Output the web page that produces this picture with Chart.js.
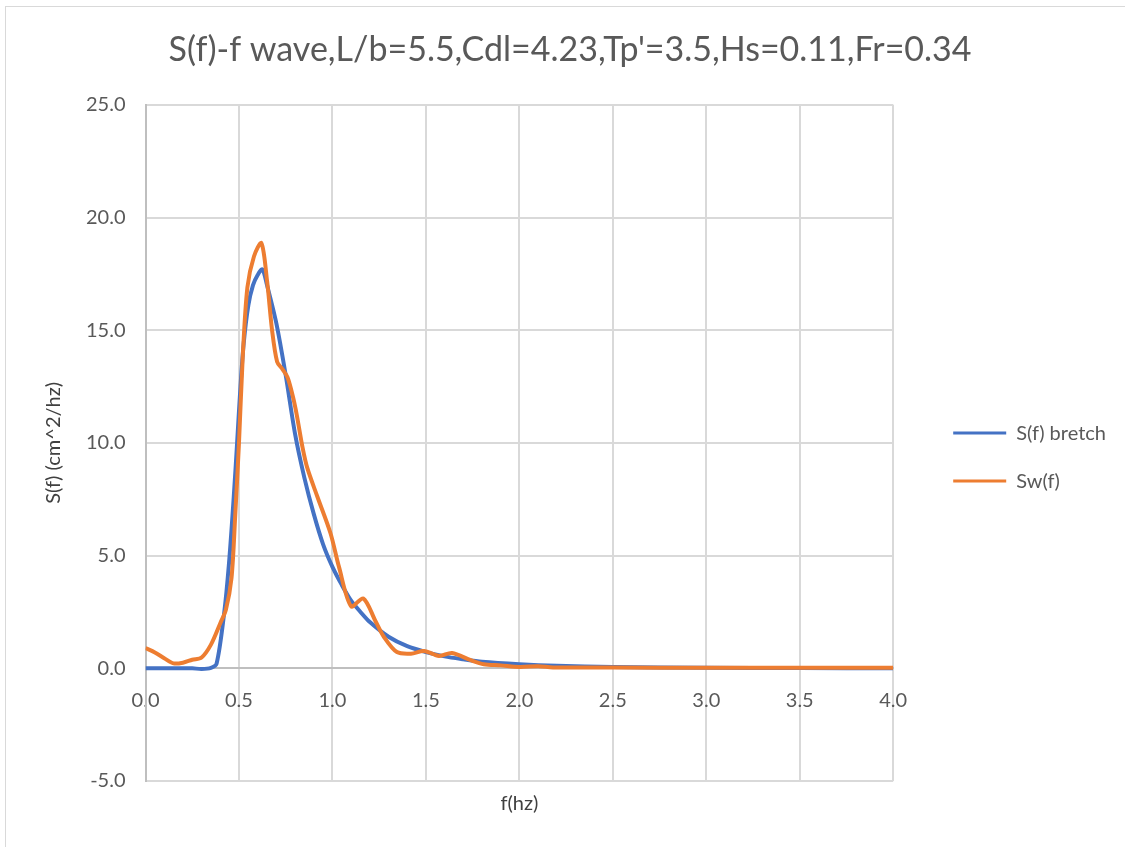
<!DOCTYPE html>
<html>
<head>
<meta charset="utf-8">
<title>S(f)-f wave</title>
<script src="https://cdn.jsdelivr.net/npm/chart.js@4.4.1/dist/chart.umd.min.js"></script>
<style>
  body { margin: 0; background: #fff; overflow: hidden; }
  #wrap { position: relative; width: 1125px; height: 847px; overflow: hidden; }
  #frame { position: absolute; left: 5px; top: 6px; width: 1200px; height: 900px; border: 1px solid #d9d9d9; }
  #myChart { position: absolute; left: 0; top: 0; }
</style>
</head>
<body>
<div id="wrap">
  <div id="frame"></div>
  <canvas id="myChart" width="1125" height="847"></canvas>
</div>
<script>
// Bretschneider target spectrum
const fBretch = [0, 0.1, 0.2, 0.25, 0.3, 0.35, 0.38, 0.42, 0.446, 0.472,
  0.49, 0.508, 0.525, 0.55, 0.575, 0.6, 0.625, 0.65, 0.7, 0.75,
  0.8, 0.85, 0.9, 0.95, 1.0, 1.05, 1.1, 1.15, 1.2, 1.3,
  1.4, 1.5, 1.6, 1.7, 1.8, 2.0, 2.2, 2.5, 3.0, 3.5, 4.0];
const sBretch = [0, 0, 0, 0, -0.03, 0.02, 0.2, 2.4, 4.6, 7.6,
  10.0, 12.5, 14.4, 16.1, 17.0, 17.45, 17.7, 17.0, 15.3, 13.0,
  10.4, 8.45, 6.85, 5.5, 4.5, 3.7, 3.0, 2.5, 2.05, 1.4,
  0.98, 0.72, 0.53, 0.4, 0.29, 0.18, 0.11, 0.06, 0.02, 0.01, 0.005];

// measured wave spectrum
const fWave = [0, 0.05, 0.1, 0.15, 0.2, 0.25, 0.3, 0.35, 0.4, 0.43,
  0.46, 0.48, 0.5, 0.52, 0.545, 0.58, 0.62, 0.65, 0.677, 0.704,
  0.73, 0.76, 0.79, 0.81, 0.84, 0.865, 0.92, 0.99, 1.035, 1.1,
  1.165, 1.23, 1.275, 1.345, 1.42, 1.49, 1.57, 1.64, 1.74, 1.81,
  1.9, 2.0, 2.1, 2.18, 2.5, 3.0, 3.5, 4.0];
const sWave = [0.9, 0.7, 0.45, 0.22, 0.25, 0.38, 0.48, 1.05, 2.0, 2.6,
  4.0, 6.8, 10.0, 13.8, 16.9, 18.27, 18.86, 17.2, 15.0, 13.6,
  13.3, 12.9, 12.0, 11.2, 9.8, 8.9, 7.6, 5.98, 4.5, 2.75,
  3.1, 2.1, 1.4, 0.72, 0.65, 0.77, 0.55, 0.68, 0.36, 0.18,
  0.13, 0.06, 0.09, 0.04, 0.03, 0.02, 0.02, 0.02];

const xTicks = [0, 0.5, 1, 1.5, 2, 2.5, 3, 3.5, 4];
const yTicks = [-5, 0, 5, 10, 15, 20, 25];

const FONT = 'Lato, "Open Sans", sans-serif';
const GREY = '#595959';

function pairs(xs, ys) {
  return xs.map((x, i) => ({ x: x, y: ys[i] }));
}

window.addEventListener('load', function() {
  let ctx = document.getElementById('myChart').getContext('2d');
  let chart = new Chart(ctx, {
    type: 'line',
    data: {
      datasets: [{
        label: 'S(f) bretch',
        data: pairs(fBretch, sBretch),
        borderColor: '#4472C4',
        backgroundColor: '#4472C4',
        borderWidth: 4,
        pointRadius: 0,
        tension: 0.3,
        order: 2
      }, {
        label: 'Sw(f)',
        data: pairs(fWave, sWave),
        borderColor: '#ED7D31',
        backgroundColor: '#ED7D31',
        borderWidth: 4,
        pointRadius: 0,
        tension: 0.3,
        order: 1
      }]
    },
    options: {
      responsive: false,
      animation: false,
      layout: { padding: { left: 24, right: 9, top: 0, bottom: 27 } },
      scales: {
        // value axis crosses the frequency axis at y = 0
        x: {
          type: 'linear',
          position: { y: 0 },
          min: 0,
          max: 4,
          afterBuildTicks: (s) => { s.ticks = xTicks.map(v => ({ value: v })); },
          ticks: {
            callback: (v) => Number(v).toFixed(1),
            font: { family: FONT, size: 20 },
            color: GREY,
            padding: 20
          },
          grid: { color: '#d9d9d9', lineWidth: 2, drawTicks: false },
          border: { color: '#bfbfbf', width: 2 }
        },
        // carries only the axis title at the bottom
        x2: {
          type: 'linear',
          position: 'bottom',
          min: 0,
          max: 4,
          ticks: { display: false },
          grid: { display: false },
          border: { display: false },
          title: {
            display: true,
            text: 'f(hz)',
            font: { family: FONT, size: 20 },
            color: '#404040',
            padding: { top: 3, bottom: 4 }
          }
        },
        y: {
          min: -5,
          max: 25,
          afterBuildTicks: (s) => { s.ticks = yTicks.map(v => ({ value: v })); },
          ticks: {
            callback: (v) => Number(v).toFixed(1),
            font: { family: FONT, size: 20 },
            color: GREY,
            padding: 20
          },
          grid: { color: '#d9d9d9', lineWidth: 2, drawTicks: false },
          border: { color: '#bfbfbf', width: 2 },
          title: {
            display: true,
            text: 'S(f) (cm^2/hz)',
            font: { family: FONT, size: 20 },
            color: '#404040',
            padding: { top: 18, bottom: 0 }
          }
        },
        // spacer between plot and legend
        gap: {
          type: 'linear',
          position: 'right',
          ticks: { display: false },
          grid: { display: false },
          border: { display: false },
          afterFit: (s) => { s.width = 32; }
        }
      },
      plugins: {
        title: {
          display: true,
          text: "S(f)-f wave,L/b=5.5,Cdl=4.23,Tp'=3.5,Hs=0.11,Fr=0.34",
          font: { family: FONT, size: 34, weight: 'normal' },
          color: GREY,
          padding: { top: 30, bottom: 34 }
        },
        legend: {
          position: 'right',
          maxWidth: 200,
          // blank title only pushes the entries down
          title: { display: true, text: ' ', font: { size: 1 }, padding: { top: 0, bottom: 93 } },
          labels: {
            usePointStyle: true,
            pointStyle: 'line',
            pointStyleWidth: 53,
            padding: 28,
            font: { family: FONT, size: 20 },
            color: GREY,
            sort: (a, b) => a.datasetIndex - b.datasetIndex,
            generateLabels: (c) => Chart.defaults.plugins.legend.labels.generateLabels(c).map(l => {
              l.lineWidth = 3;
              return l;
            })
          }
        },
        tooltip: { enabled: false }
      }
    }
  });
});
</script>
</body>
</html>
